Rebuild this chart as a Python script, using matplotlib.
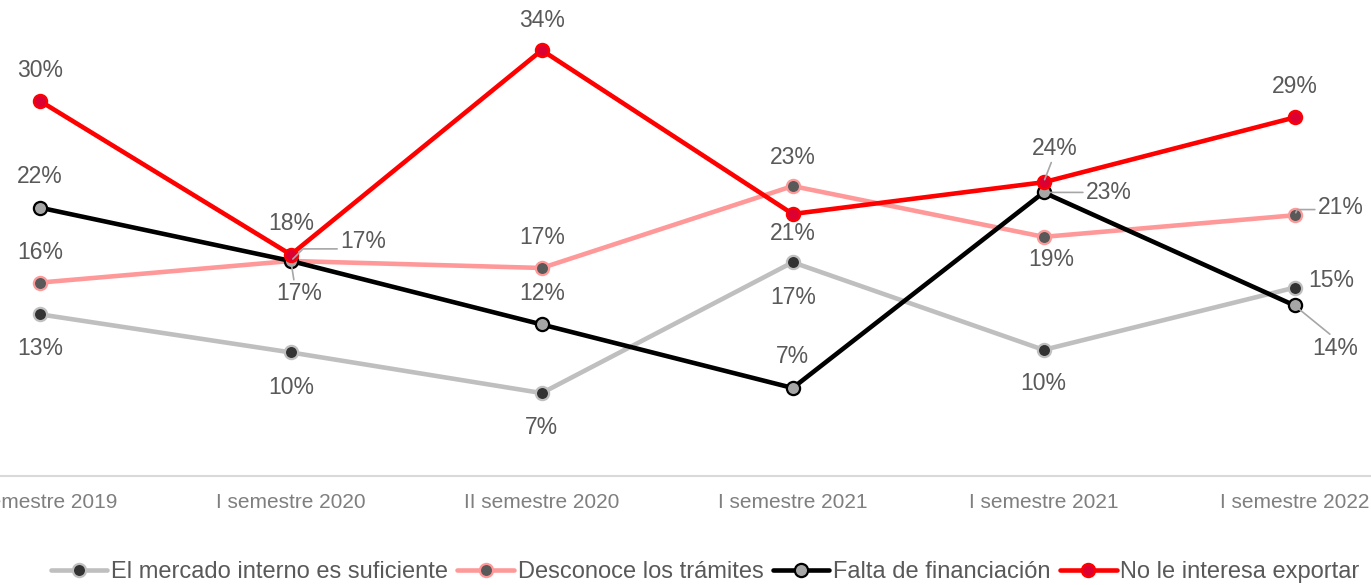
import matplotlib
matplotlib.use("Agg")
import matplotlib.pyplot as plt

plt.rcParams['font.family'] = ['Liberation Sans', 'DejaVu Sans']

# ---- data ----
categories = ["II semestre 2019", "I semestre 2020", "II semestre 2020",
              "I semestre 2021", "I semestre 2021", "I semestre 2022"]
mercado_interno = [13.2, 10.2, 7.0, 17.3, 10.4, 15.3]
desconoce_tramites = [15.7, 17.4, 16.85, 23.3, 19.3, 21.0]
falta_financiacion = [21.6, 17.4, 12.4, 7.4, 22.8, 13.9]
no_interesa = [30.0, 17.9, 34.0, 21.1, 23.6, 28.7]

series_names = ["El mercado interno es suficiente", "Desconoce los trámites",
                "Falta de financiación", "No le interesa exportar"]
series_values = [mercado_interno, desconoce_tramites, falta_financiacion, no_interesa]

# ---- styles ----
styles = [
    dict(color='#bfbfbf', mfc='#333333', mec='#bfbfbf'),
    dict(color='#ff9999', mfc='#595959', mec='#ff9999'),
    dict(color='#000000', mfc='#a6a6a6', mec='#000000'),
    dict(color='#ff0000', mfc='#dc0032', mec='#ff0000'),
]

# label offsets in pixels (dx, dy up) and leader spec
label_layout = [
    [((0, -34), None), ((0, -35), None), ((0, -34), None), ((0, -35), None),
     ((0, -34), None), ((37, 7), None)],
    [((0, 30), None), ((72, 19), ('angle', 45, (0, 0.2))), ((0, 30), None), ((0, 29), None),
     ((8, -23), None), ((46, 8), ('angle', 65, (0, 0.4)))],
    [((0, 31), None), ((8, -33), ('straight', (0.4, 1.0))), ((0, 31), None), ((0, 31), None),
     ((65, 0), ('straight', (0, 0.5))), ((41, -43), ('straight', (0.45, 1.0)))],
    [((0, 30), None), ((0, 31), None), ((0, 30), None), ((0, -20), None),
     ((11, 34), ('straight', (0.45, 0.0))), ((0, 31), None)],
]

W, H = 1371, 585
fig = plt.figure(figsize=(W / 100, H / 100), dpi=100)
left_px, right_px = -85.5, 1420
bottom_px = 476
ax = fig.add_axes([left_px / W, 1 - bottom_px / H, (right_px - left_px) / W, bottom_px / H])
ax.set_xlim(-0.5, 5.5)
ax.set_ylim(0.47, 37.95)

x = list(range(len(categories)))
handles = []
for i, (name, vals, st) in enumerate(zip(series_names, series_values, styles)):
    h, = ax.plot(x, vals, color=st['color'], lw=3.3, marker='o', markersize=9.5,
                 markerfacecolor=st['mfc'], markeredgecolor=st['mec'], markeredgewidth=1.6,
                 solid_capstyle='round', zorder=3 + i, label=name, clip_on=False)
    handles.append(h)
    for j, v in enumerate(vals):
        (dx, dy), leader = label_layout[i][j]
        kw = {}
        if leader is not None:
            if leader[0] == 'angle':
                kw['arrowprops'] = dict(arrowstyle='-', color='#a6a6a6', lw=1.2,
                                        shrinkA=0, shrinkB=2, relpos=leader[2],
                                        connectionstyle=f"angle,angleA=0,angleB={leader[1]},rad=0")
            else:
                kw['arrowprops'] = dict(arrowstyle='-', color='#a6a6a6', lw=1.2,
                                        shrinkA=0, shrinkB=2, relpos=leader[1])
        ax.annotate(f"{v:.0f}%", (j, v), xytext=(dx, dy), textcoords='offset pixels',
                    ha='center', va='center', fontsize=16.5, color='#595959',
                    zorder=10, **kw)

for s in ['top', 'left', 'right']:
    ax.spines[s].set_visible(False)
ax.spines['bottom'].set_color('#d9d9d9')
ax.spines['bottom'].set_linewidth(1.5)
ax.set_yticks([])
ax.set_xticks(x)
ax.set_xticklabels(categories, fontsize=15, color='#7f7f7f')
ax.tick_params(axis='x', length=0, pad=12)

leg = fig.legend(handles=handles, loc='center', bbox_to_anchor=(705 / W, 1 - 572 / H),
                 ncol=4, frameon=False, fontsize=17, handlelength=2.4,
                 handletextpad=0.15, columnspacing=0.4, labelcolor='#595959',
                 borderaxespad=0, borderpad=0)

fig.savefig("out.png", dpi=100)
